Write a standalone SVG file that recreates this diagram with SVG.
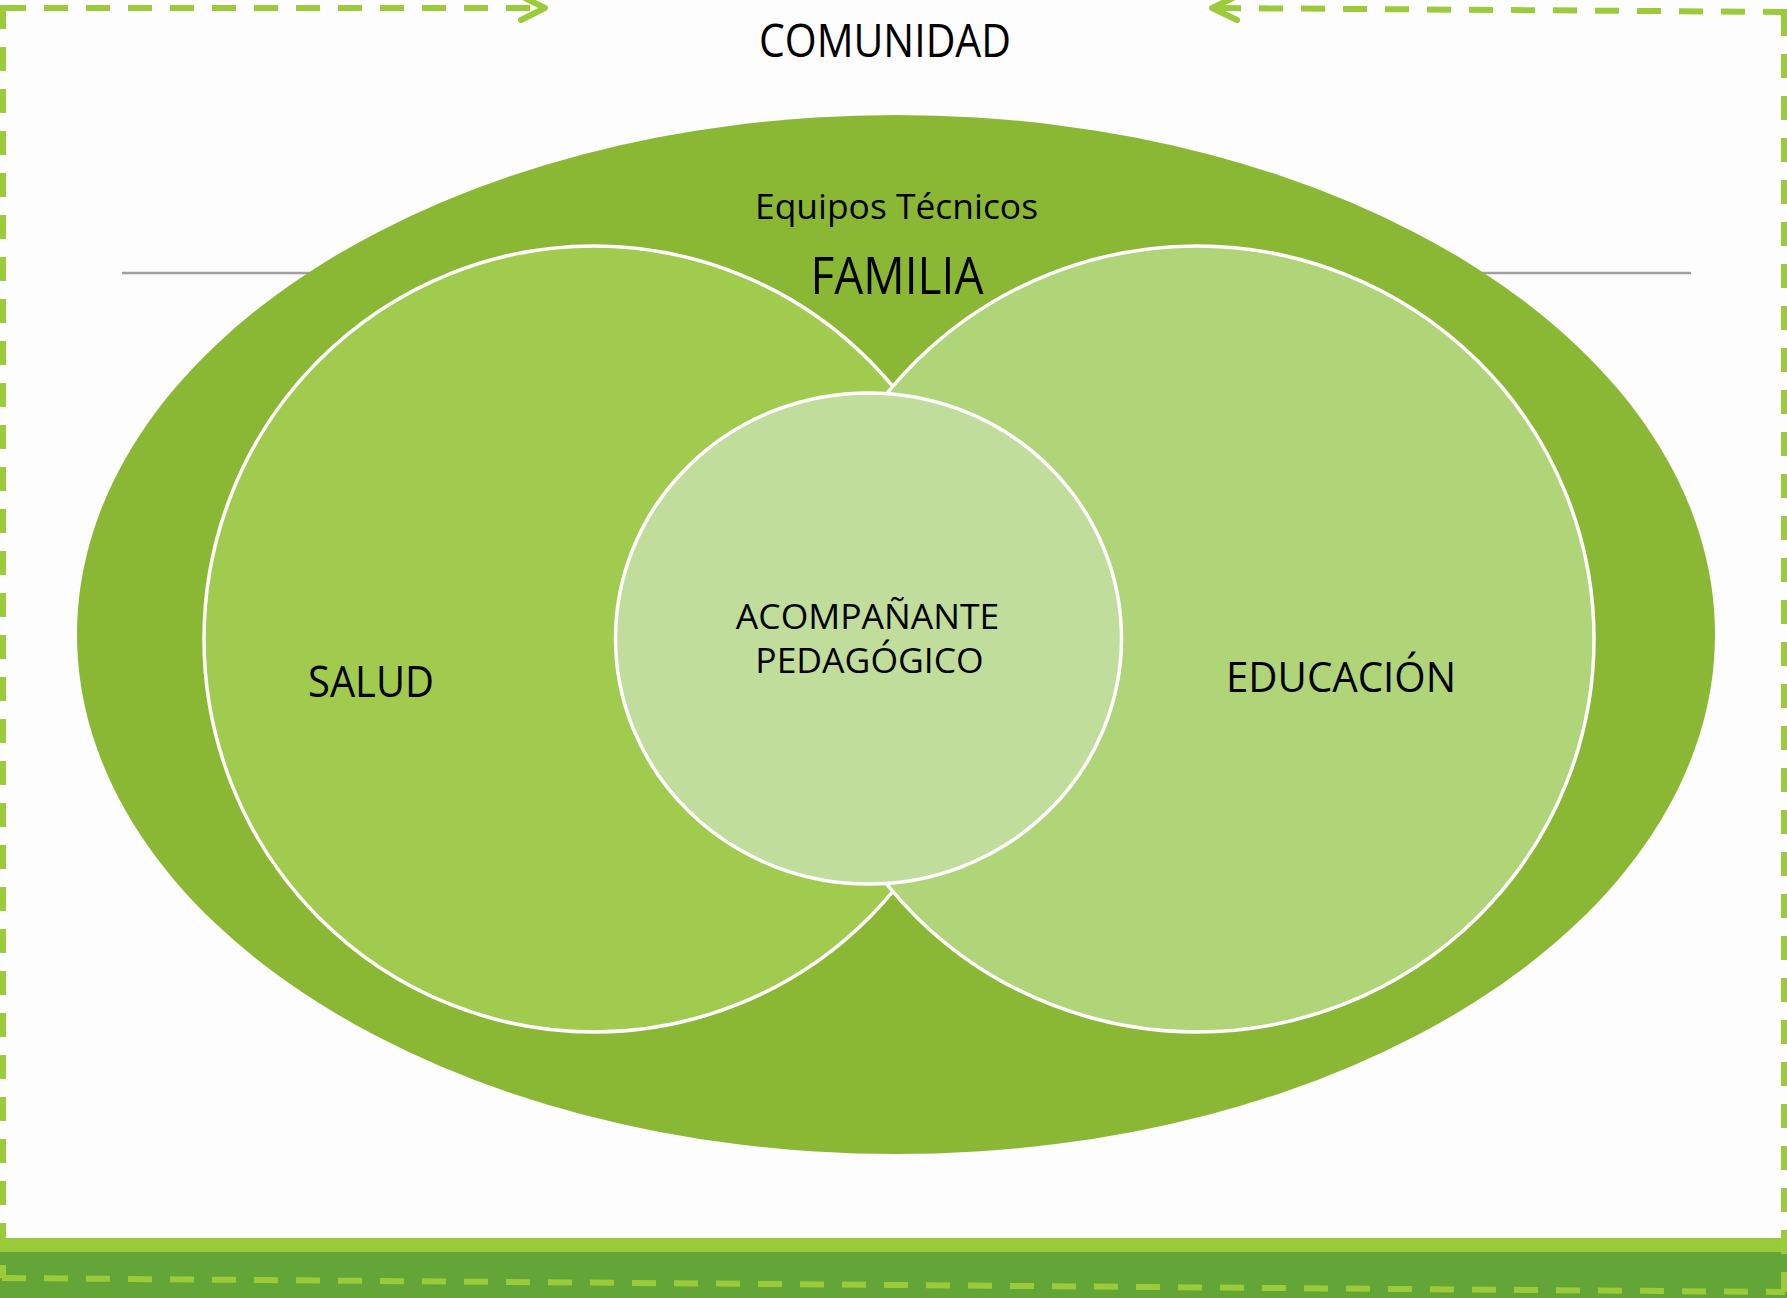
<svg xmlns="http://www.w3.org/2000/svg" width="1787" height="1298" viewBox="0 0 1787 1298">
<style>
.lbl{font-family:"Open Sans","Noto Sans","Liberation Sans",sans-serif;fill:#000;text-anchor:middle}
.dash{fill:none;stroke:#9BCB3B;stroke-width:6;stroke-dasharray:24 18}
.head{fill:none;stroke:#9BCB3B;stroke-width:6;stroke-linecap:round;stroke-linejoin:round}
.ring{stroke:#FFFFFF;stroke-width:3.5}
.rule{stroke:#A0A0A0;stroke-width:2.5}
</style>
<rect x="0" y="0" width="1787" height="1298" fill="#FDFDFD"/>
<g id="bottom-bands">
<rect x="0" y="1238" width="1787" height="14" fill="#99CB38"/>
<rect x="0" y="1252" width="1787" height="46" fill="#63A537"/>
</g>
<g id="rules">
<line class="rule" x1="122" y1="273" x2="315" y2="273"/>
<line class="rule" x1="1478" y1="273" x2="1691" y2="273"/>
</g>
<g id="comunidad">
<text class="lbl" x="885" y="57" font-size="45" textLength="252" lengthAdjust="spacingAndGlyphs">COMUNIDAD</text>
</g>
<g id="equipos-tecnicos">
<ellipse cx="896" cy="634.5" rx="819" ry="519.5" fill="#8BB834"/>
<text class="lbl" x="896.5" y="219" font-size="34" textLength="283" lengthAdjust="spacingAndGlyphs">Equipos Técnicos</text>
</g>
<g id="familia">
<text class="lbl" x="897" y="294" font-size="52" textLength="173" lengthAdjust="spacingAndGlyphs">FAMILIA</text>
</g>
<g id="salud">
<ellipse class="ring" cx="594" cy="639" rx="390" ry="393" fill="#A0CB4F"/>
<text class="lbl" x="371" y="697" font-size="43" textLength="126" lengthAdjust="spacingAndGlyphs">SALUD</text>
</g>
<g id="educacion">
<ellipse class="ring" cx="1197" cy="639" rx="397" ry="393" fill="#B0D478"/>
<text class="lbl" x="1341" y="692" font-size="42" textLength="230" lengthAdjust="spacingAndGlyphs">EDUCACIÓN</text>
</g>
<g id="acompanante-pedagogico">
<ellipse class="ring" cx="868.5" cy="638.5" rx="253" ry="245.5" fill="#C1DD9C"/>
<text class="lbl" font-size="35.5"><tspan x="867.5" y="629">ACOMPAÑANTE</tspan><tspan x="869.5" y="673">PEDAGÓGICO</tspan></text>
</g>
<g id="connectors">
<line class="dash" x1="2" y1="8" x2="540" y2="8"/>
<polyline class="head" points="521,-4 545,8 521,20"/>
<line class="dash" x1="3" y1="5" x2="3" y2="1278"/>
<line class="dash" x1="2" y1="1278" x2="1785" y2="1292"/>
<line class="dash" x1="1784" y1="12" x2="1784" y2="1292"/>
<line class="dash" x1="1787" y1="12" x2="1216" y2="8"/>
<polyline class="head" points="1237,-4 1212,8 1237,20"/>
</g>
</svg>
